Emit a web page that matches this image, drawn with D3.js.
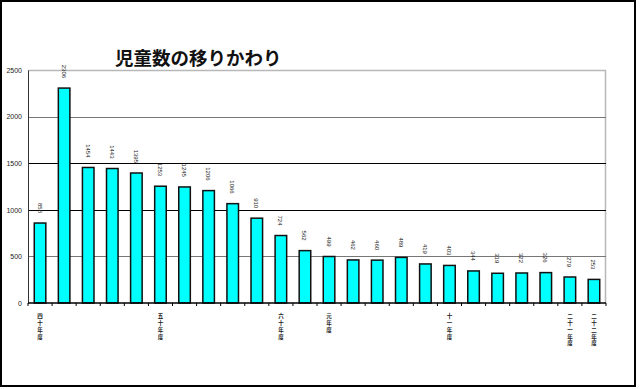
<!DOCTYPE html>
<meta charset="utf-8">
<style>
  body { margin: 0; background: #fff; }
  svg { display: block; font-family: "Noto Sans CJK JP", "DejaVu Sans", sans-serif; }
</style>
<script src="https://d3js.org/d3.v7.min.js"></script>
<div id="chart"></div>
<script>
  // 年度 (label only where the original shows one)
  var years = ["四十年度", "", "", "", "", "五十年度", "", "", "", "", "六十年度", "",
               "元年度", "", "", "", "", "十一年度", "", "", "", "", "二十一年度", "二十二年度"];
  var counts = [858, 2306, 1454, 1443, 1395, 1253, 1245, 1206, 1066, 910, 724, 562,
                499, 462, 460, 489, 419, 403, 344, 319, 322, 326, 279, 253];
  var yTicks = [0, 500, 1000, 1500, 2000, 2500];
  var title = "児童数の移りかわり";

  var W = 640, H = 389;
  var margin = {top: 70, right: 34, bottom: 86, left: 28},
      width = W - margin.left - margin.right,
      height = H - margin.top - margin.bottom;

  var svg = d3.select("#chart").append("svg")
      .attr("width", W)
      .attr("height", H);

  // outer frame
  svg.append("rect")
    .attr("x", 1).attr("y", 1)
    .attr("width", 634).attr("height", 385)
    .attr("fill", "none")
    .attr("stroke", "#000")
    .attr("stroke-width", 2);

  svg.append("text")
    .attr("x", 115)
    .attr("y", 65)
    .attr("font-size", 18.5)
    .attr("font-weight", "bold")
    .attr("fill", "#111")
    .text(title);

  var g = svg.append("g")
      .attr("transform", "translate(" + margin.left + "," + margin.top + ")");

  var x = d3.scaleBand()
    .domain(d3.range(counts.length))
    .range([0, width])
    .paddingInner(0.52)
    .paddingOuter(0.26);

  var y = d3.scaleLinear()
    .domain([0, 2500])
    .range([height, 0]);

  // plot border (top / right) in grey
  g.append("path")
    .attr("d", "M0,0.5H" + (width - 0.5) + "V" + height)
    .attr("fill", "none")
    .attr("stroke", "#b8b8b8")
    .attr("stroke-width", 1.5);

  // gridlines
  g.selectAll(".grid")
    .data(yTicks.filter(function(d) { return d > 0 && d < 2500; }))
    .enter().append("line")
      .attr("x1", 0).attr("x2", width)
      .attr("y1", function(d) { return Math.round(y(d)) + 0.5; })
      .attr("y2", function(d) { return Math.round(y(d)) + 0.5; })
      .attr("stroke", function(d) { return (d == 2000 || d == 500) ? "#777" : "#000"; })
      .attr("stroke-width", 1.2);

  // y axis
  var yAxis = g.append("g")
    .call(d3.axisLeft(y).tickValues(yTicks).tickFormat(d3.format("d")).tickSize(0).tickPadding(6));
  yAxis.select(".domain").attr("stroke", "#333");
  yAxis.selectAll("text")
    .attr("font-size", 7)
    .attr("font-family", "Liberation Sans, Arial, sans-serif")
    .attr("fill", "#222");

  // bars
  g.selectAll(".bar")
    .data(counts)
    .enter().append("rect")
      .attr("x", function(d, i) { return x(i); })
      .attr("y", function(d) { return y(d); })
      .attr("width", x.bandwidth())
      .attr("height", function(d) { return height - y(d); })
      .attr("fill", "#00ffff")
      .attr("stroke", "#111")
      .attr("stroke-width", 1.5);

  // x axis with ticks between categories
  var step = x.step();
  var xAxis = g.append("g")
    .attr("transform", "translate(0," + height + ")");
  xAxis.append("line")
    .attr("x1", 0).attr("x2", width)
    .attr("stroke", "#000")
    .attr("stroke-width", 1.5);
  xAxis.selectAll(".tk")
    .data(d3.range(counts.length + 1))
    .enter().append("line")
      .attr("x1", function(i) { return x(0) - step * 0.26 + i * step; })
      .attr("x2", function(i) { return x(0) - step * 0.26 + i * step; })
      .attr("y1", 0).attr("y2", 3)
      .attr("stroke", "#000");

  // value labels, rotated
  g.selectAll(".val")
    .data(counts)
    .enter().append("text")
      .attr("transform", function(d, i) {
        return "translate(" + (x(i) + x.bandwidth() / 2 - 2.5) + "," + (y(d) - 10) + ") rotate(90)";
      })
      .attr("text-anchor", "end")
      .attr("font-size", 6)
      .attr("font-family", "Liberation Sans, Arial, sans-serif")
      .attr("fill", "#222")
      .text(function(d) { return d; });

  // category labels, set vertically
  g.selectAll(".cat")
    .data(years)
    .enter().append("text")
      .attr("x", function(d, i) { return x(i) + x.bandwidth() / 2; })
      .attr("y", height + 10)
      .style("writing-mode", "vertical-rl")
      .style("text-orientation", "upright")
      .attr("font-size", 5.5)
      .attr("letter-spacing", 1.4)
      .attr("font-weight", "bold")
      .attr("fill", "#222")
      .text(function(d) { return d; });
</script>
